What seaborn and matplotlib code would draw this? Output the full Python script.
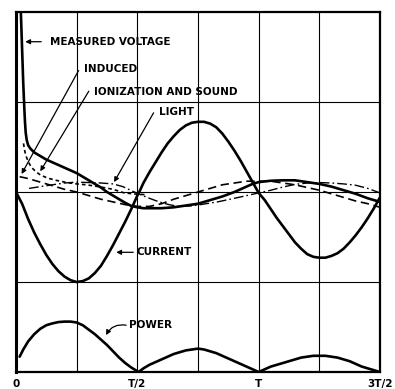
import matplotlib
matplotlib.use("Agg")
import matplotlib.pyplot as plt
import seaborn as sns
import pandas as pd

# Time in units of the period T; amplitudes in grid divisions
voltage_t = [0.019, 0.025, 0.03, 0.034, 0.037, 0.04, 0.044, 0.05, 0.06, 0.075,
             0.1, 0.125, 0.15, 0.175, 0.2, 0.225, 0.25, 0.275, 0.3, 0.325,
             0.35, 0.375, 0.4, 0.425, 0.45, 0.475, 0.5, 0.525, 0.55, 0.6,
             0.65, 0.7, 0.75, 0.8, 0.85, 0.9, 0.95, 0.975, 1.0, 1.05,
             1.1, 1.15, 1.2, 1.25, 1.3, 1.35, 1.4, 1.45, 1.5]
voltage_v = [2.08, 1.6, 1.2, 0.95, 0.78, 0.66, 0.58, 0.52, 0.48, 0.44,
             0.40, 0.36, 0.33, 0.30, 0.27, 0.24, 0.21, 0.17, 0.13, 0.09,
             0.05, 0.0, -0.04, -0.08, -0.12, -0.155, -0.17, -0.18, -0.18, -0.18,
             -0.17, -0.15, -0.13, -0.09, -0.05, 0.0, 0.06, 0.09, 0.11, 0.125,
             0.13, 0.13, 0.11, 0.09, 0.06, 0.02, -0.02, -0.07, -0.11]

current_t = [0.0, 0.025, 0.05, 0.075, 0.1, 0.125, 0.15, 0.175, 0.2, 0.225,
             0.25, 0.275, 0.3, 0.325, 0.35, 0.375, 0.4, 0.425, 0.45, 0.475,
             0.5, 0.508, 0.525, 0.55, 0.575, 0.6, 0.625, 0.65, 0.675, 0.7,
             0.725, 0.75, 0.775, 0.8, 0.825, 0.85, 0.875, 0.9, 0.925, 0.95,
             0.975, 1.0, 1.025, 1.05, 1.075, 1.1, 1.125, 1.15, 1.175, 1.2,
             1.225, 1.25, 1.275, 1.3, 1.325, 1.35, 1.375, 1.4, 1.425, 1.45,
             1.475, 1.5]
current_v = [0.0, -0.13, -0.30, -0.45, -0.58, -0.70, -0.80, -0.88, -0.94, -0.98,
             -1.0, -0.99, -0.96, -0.90, -0.82, -0.71, -0.59, -0.46, -0.33, -0.19,
             -0.04, 0.0, 0.10, 0.22, 0.33, 0.44, 0.54, 0.62, 0.69, 0.74,
             0.77, 0.78, 0.78, 0.76, 0.72, 0.65, 0.56, 0.46, 0.35, 0.23,
             0.11, -0.01, -0.09, -0.19, -0.29, -0.38, -0.47, -0.56, -0.63, -0.69,
             -0.72, -0.73, -0.73, -0.71, -0.68, -0.63, -0.56, -0.48, -0.39, -0.29,
             -0.18, -0.06]

power_t = [0.015, 0.03, 0.05, 0.075, 0.1, 0.125, 0.15, 0.175, 0.2, 0.225,
           0.25, 0.275, 0.3, 0.325, 0.35, 0.375, 0.4, 0.425, 0.45, 0.475,
           0.505, 0.525, 0.55, 0.575, 0.6, 0.625, 0.65, 0.675, 0.7, 0.725,
           0.75, 0.775, 0.8, 0.825, 0.85, 0.875, 0.9, 0.925, 0.95, 0.975,
           1.0, 1.025, 1.05, 1.075, 1.1, 1.125, 1.15, 1.175, 1.2, 1.225,
           1.25, 1.275, 1.3, 1.325, 1.35, 1.375, 1.4, 1.425, 1.45, 1.475, 1.5]
power_v = [-1.83, -1.75, -1.66, -1.58, -1.52, -1.48, -1.46, -1.445, -1.44, -1.44,
           -1.45, -1.48, -1.53, -1.58, -1.64, -1.70, -1.77, -1.84, -1.90, -1.95,
           -2.0, -1.96, -1.92, -1.89, -1.86, -1.83, -1.80, -1.78, -1.76, -1.75,
           -1.74, -1.75, -1.77, -1.79, -1.82, -1.85, -1.88, -1.91, -1.94, -1.97,
           -2.0, -1.97, -1.94, -1.92, -1.90, -1.88, -1.86, -1.84, -1.83, -1.82,
           -1.82, -1.82, -1.83, -1.84, -1.86, -1.88, -1.91, -1.94, -1.96, -1.98, -2.0]

ionization_t = [0.031, 0.035, 0.04, 0.05, 0.062, 0.08, 0.1, 0.13, 0.165, 0.21,
                0.25, 0.29, 0.34, 0.4, 0.446, 0.5, 0.54]
ionization_v = [0.54, 0.47, 0.41, 0.34, 0.28, 0.23, 0.19, 0.155, 0.13, 0.105,
                0.09, 0.08, 0.06, 0.03, -0.01, -0.025, -0.03]

induced_t = [0.015, 0.05, 0.1, 0.15, 0.2, 0.25, 0.3, 0.35, 0.4, 0.45,
             0.5, 0.55, 0.6, 0.65, 0.7, 0.75, 0.8, 0.85, 0.9, 0.95,
             1.0, 1.05, 1.1, 1.15, 1.2, 1.25, 1.3, 1.35, 1.4, 1.45, 1.5]
induced_v = [0.17, 0.15, 0.11, 0.07, 0.03, 0.0, -0.04, -0.08, -0.11, -0.14,
             -0.16, -0.16, -0.13, -0.08, -0.04, 0.0, 0.04, 0.08, 0.10, 0.12,
             0.12, 0.12, 0.10, 0.08, 0.05, 0.02, -0.02, -0.06, -0.10, -0.13, -0.17]

light_t = [0.054, 0.1, 0.15, 0.2, 0.25, 0.3, 0.35, 0.4, 0.44, 0.488,
           0.54, 0.59, 0.63, 0.67, 0.72, 0.76, 0.83, 0.9, 0.95, 1.0,
           1.05, 1.1, 1.15, 1.2, 1.25, 1.3, 1.35, 1.4, 1.45, 1.5]
light_v = [0.04, 0.06, 0.08, 0.10, 0.11, 0.105, 0.10, 0.09, 0.06, 0.0,
           -0.06, -0.11, -0.14, -0.16, -0.155, -0.14, -0.11, -0.07, -0.04, -0.01,
           0.02, 0.055, 0.085, 0.10, 0.105, 0.10, 0.09, 0.075, 0.04, -0.01]

tick_pos = [0, 0.5, 1.0, 1.5]
tick_labels = ["0", "T/2", "T", "3T/2"]

sns.set_style("white")
plt.rcParams["font.family"] = ["DejaVu Sans"]
plt.rcParams["text.color"] = "black"
plt.rcParams["xtick.color"] = "black"

fig = plt.figure(figsize=(3.95, 3.89), dpi=100)
ax = fig.add_axes([0.0405, 0.0437, 0.9215, 0.9254])

# grid: quarter periods across, one division per unit vertically
for gx in [0.25, 0.5, 0.75, 1.0, 1.25]:
    ax.axvline(gx, color="black", lw=0.8, zorder=1)
for gy in [-1, 0, 1]:
    ax.axhline(gy, color="black", lw=0.8, zorder=1)

def draw(t, v, lw, dashes=None):
    df = pd.DataFrame({"t": t, "v": v})
    sns.lineplot(data=df, x="t", y="v", ax=ax, color="black", lw=lw,
                 sort=False, estimator=None, legend=False)
    ln = ax.lines[-1]
    ln.set_solid_capstyle("round")
    ln.set_solid_joinstyle("round")
    if dashes is not None:
        ln.set_dashes(dashes)
    ln.set_zorder(3)

draw(voltage_t, voltage_v, 1.9)
draw(current_t, current_v, 1.9)
draw(power_t, power_v, 1.9)
draw(ionization_t, ionization_v, 1.2, (2.2, 1.8))
draw(induced_t, induced_v, 1.2, (5, 2.8))
draw(light_t, light_v, 1.0, (7, 2.2, 1.2, 2.2))

ax.set_xlim(0, 1.5)
ax.set_ylim(-2, 2)
for s in ax.spines.values():
    s.set_visible(True)
    s.set_color("black")
    s.set_linewidth(1.6)
ax.spines["left"].set_linewidth(2.2)

ax.set_xticks(tick_pos)
ax.set_xticklabels(tick_labels, fontsize=7.5, fontweight="bold", color="black")
ax.tick_params(axis="x", length=0, pad=5)
ax.set_yticks([])
ax.set_xlabel("")
ax.set_ylabel("")

fs = 7.5
arrow = dict(arrowstyle="-|>", color="black", lw=0.9, mutation_scale=7,
             shrinkA=0, shrinkB=0)

ax.annotate("", xy=(0.038, 1.67), xytext=(0.104, 1.67), arrowprops=arrow)
ax.text(0.142, 1.67, "MEASURED VOLTAGE", fontsize=fs, fontweight="bold", va="center")

ax.annotate("", xy=(0.023, 0.20), xytext=(0.258, 1.35), arrowprops=arrow)
ax.text(0.279, 1.37, "INDUCED", fontsize=fs, fontweight="bold", va="center")

ax.annotate("", xy=(0.10, 0.23), xytext=(0.30, 1.12), arrowprops=arrow)
ax.text(0.321, 1.11, "IONIZATION AND SOUND", fontsize=fs, fontweight="bold", va="center")

ax.annotate("", xy=(0.404, 0.11), xytext=(0.567, 0.88), arrowprops=arrow)
ax.text(0.588, 0.89, "LIGHT", fontsize=fs, fontweight="bold", va="center")

ax.annotate("", xy=(0.413, -0.67), xytext=(0.483, -0.67), arrowprops=arrow)
ax.text(0.496, -0.67, "CURRENT", fontsize=fs, fontweight="bold", va="center")

ax.annotate("", xy=(0.371, -1.59), xytext=(0.454, -1.48),
            arrowprops=dict(arrow, connectionstyle="arc3,rad=0.35"))
ax.text(0.467, -1.48, "POWER", fontsize=fs, fontweight="bold", va="center")

fig.savefig("out.png", dpi=100, facecolor="white")
